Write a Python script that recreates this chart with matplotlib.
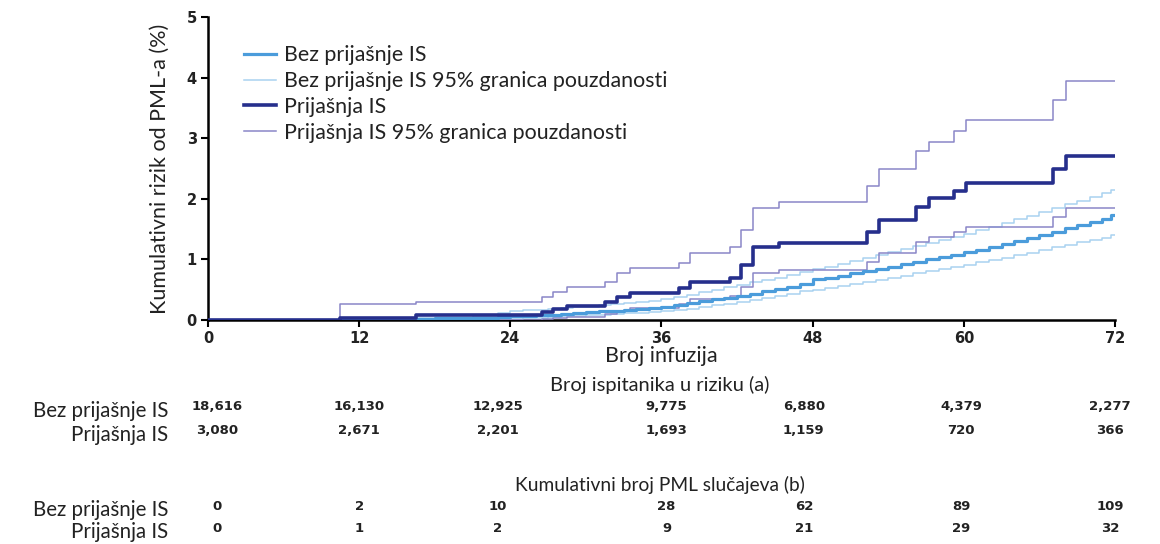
import matplotlib
matplotlib.use("Agg")
import matplotlib.pyplot as plt
import matplotlib.transforms as mtransforms

# Bez prijasnje IS - Kaplan-Meier step points (infusion, cumulative risk %)
bez_x = [0, 10.5, 14, 18, 21, 23, 24, 25, 26, 27, 28, 29, 30, 31, 32, 33, 34, 35,
         36, 37, 38, 39, 40, 41, 42, 43, 44, 45, 46, 47, 48, 49, 50, 51, 52, 53,
         54, 55, 56, 57, 58, 59, 60, 61, 62, 63, 64, 65, 66, 67, 68, 69, 70, 71, 71.7]
bez_y = [0, 0.01, 0.02, 0.03, 0.04, 0.05, 0.06, 0.07, 0.08, 0.09, 0.10, 0.12, 0.13,
         0.14, 0.15, 0.17, 0.18, 0.20, 0.22, 0.25, 0.28, 0.31, 0.34, 0.37, 0.40,
         0.43, 0.47, 0.51, 0.55, 0.60, 0.67, 0.70, 0.73, 0.77, 0.80, 0.84, 0.88,
         0.92, 0.96, 1.00, 1.04, 1.08, 1.12, 1.16, 1.21, 1.25, 1.30, 1.35, 1.40,
         1.45, 1.51, 1.56, 1.61, 1.67, 1.73]
bez_hi = [0, 0.02, 0.03, 0.04, 0.06, 0.12, 0.14, 0.16, 0.17, 0.18, 0.19, 0.21, 0.22,
          0.24, 0.26, 0.28, 0.30, 0.32, 0.34, 0.38, 0.42, 0.46, 0.50, 0.54, 0.58,
          0.62, 0.66, 0.70, 0.74, 0.79, 0.84, 0.88, 0.93, 0.98, 1.02, 1.07, 1.12,
          1.17, 1.22, 1.27, 1.32, 1.37, 1.42, 1.48, 1.54, 1.60, 1.66, 1.72, 1.78,
          1.84, 1.91, 1.97, 2.03, 2.09, 2.14]
bez_lo = [0, 0.003, 0.005, 0.008, 0.01, 0.015, 0.02, 0.03, 0.04, 0.05, 0.06, 0.07,
          0.08, 0.09, 0.10, 0.11, 0.12, 0.13, 0.14, 0.16, 0.18, 0.21, 0.24, 0.27,
          0.30, 0.33, 0.36, 0.39, 0.43, 0.47, 0.50, 0.53, 0.56, 0.60, 0.63, 0.66,
          0.70, 0.73, 0.77, 0.80, 0.84, 0.87, 0.91, 0.95, 0.99, 1.03, 1.07, 1.11,
          1.15, 1.20, 1.24, 1.28, 1.32, 1.36, 1.40]

# Prijasnja IS
pri_x = [0, 10.5, 16.5, 26.5, 27.4, 28.5, 31.5, 32.5, 33.5, 37.4, 38.3, 41.4, 42.3,
         43.3, 45.3, 52.3, 53.3, 56.2, 57.2, 59.2, 60.2, 67.1, 68.1]
pri_y = [0, 0.03, 0.08, 0.13, 0.18, 0.23, 0.30, 0.38, 0.44, 0.52, 0.63, 0.70, 0.91,
         1.20, 1.27, 1.45, 1.65, 1.87, 2.01, 2.13, 2.26, 2.49, 2.70]
pri_hi = [0, 0.26, 0.30, 0.38, 0.46, 0.54, 0.62, 0.77, 0.85, 0.94, 1.11, 1.20, 1.49,
          1.85, 1.95, 2.21, 2.49, 2.79, 2.94, 3.12, 3.30, 3.63, 3.95]
pri_lo = [0, 0, 0, 0.02, 0.03, 0.05, 0.10, 0.15, 0.20, 0.27, 0.35, 0.40, 0.55,
          0.78, 0.82, 0.96, 1.10, 1.29, 1.37, 1.45, 1.54, 1.70, 1.84]

x_ticks = [0, 12, 24, 36, 48, 60, 72]
risk_bez = ["18,616", "16,130", "12,925", "9,775", "6,880", "4,379", "2,277"]
risk_pri = ["3,080", "2,671", "2,201", "1,693", "1,159", "720", "366"]
pml_bez = ["0", "2", "10", "28", "62", "89", "109"]
pml_pri = ["0", "1", "2", "9", "21", "29", "32"]
col_x = [0.7, 12, 23, 36.4, 47.3, 59.8, 71.6]

c_bez = "#4b9cdb"
c_bez_ci = "#a9d2f0"
c_pri = "#262f8c"
c_pri_ci = "#8a86c8"
txt = "#222222"

label_font = "Lato"
num_font = "DejaVu Sans"

fig = plt.figure(figsize=(11.6, 5.44), dpi=100)
ax = fig.add_axes([0.1793, 0.4118, 0.7819, 0.557])

end = x_ticks[-1]
ax.step(bez_x + [end], bez_y + [bez_y[-1]], where="post", color=c_bez, lw=2.3,
        label="Bez prijašnje IS", zorder=4)
ax.step(bez_x + [end], bez_hi + [bez_hi[-1]], where="post", color=c_bez_ci, lw=1.1,
        label="Bez prijašnje IS 95% granica pouzdanosti", zorder=3)
ax.step(bez_x + [end], bez_lo + [bez_lo[-1]], where="post", color=c_bez_ci, lw=1.1,
        zorder=3)
ax.step(pri_x + [end], pri_y + [pri_y[-1]], where="post", color=c_pri, lw=2.6,
        label="Prijašnja IS", zorder=5)
ax.step(pri_x + [end], pri_hi + [pri_hi[-1]], where="post", color=c_pri_ci, lw=1.1,
        label="Prijašnja IS 95% granica pouzdanosti", zorder=3)
ax.step(pri_x + [end], pri_lo + [pri_lo[-1]], where="post", color=c_pri_ci, lw=1.1,
        zorder=3)

ax.set_xlim(0, 72)
ax.set_ylim(0, 5)
ax.set_xticks(x_ticks)
ax.set_yticks(range(6))
for s in ["top", "right"]:
    ax.spines[s].set_visible(False)
for s in ["left", "bottom"]:
    ax.spines[s].set_linewidth(1.8)
ax.tick_params(direction="out", length=5, width=1.5, labelsize=10.5, pad=3)
for lbl in ax.get_xticklabels() + ax.get_yticklabels():
    lbl.set_fontweight("bold")
    lbl.set_family(num_font)
    lbl.set_color(txt)

ax.set_xlabel("Broj infuzija", fontsize=15.5, family=label_font, labelpad=0, color=txt)
ax.set_ylabel("Kumulativni rizik od PML-a (%)", fontsize=15.5, family=label_font,
              labelpad=12, color=txt)

leg = ax.legend(loc="upper left", bbox_to_anchor=(0.03, 0.935), frameon=False,
                prop={"family": label_font, "size": 15.4}, handlelength=1.5,
                handletextpad=0.4, labelspacing=0.27, borderaxespad=0)
for t in leg.get_texts():
    t.set_color(txt)

# risk table below the axes
trans = mtransforms.blended_transform_factory(ax.transData, fig.transFigure)
H = 544.0


def fy(py):
    return 1 - py / H


fig.text(0.569, fy(385), "Broj ispitanika u riziku (a)", ha="center", va="center",
         fontsize=14.5, family=label_font, color=txt)
fig.text(0.569, fy(485), "Kumulativni broj PML slučajeva (b)", ha="center", va="center",
         fontsize=13.8, family=label_font, color=txt)

rows = [("Bez prijašnje IS", risk_bez, 411, 407),
        ("Prijašnja IS", risk_pri, 435, 431),
        ("Bez prijašnje IS", pml_bez, 510, 507),
        ("Prijašnja IS", pml_pri, 532, 529)]
for name, vals, ly, ny in rows:
    fig.text(168 / 1160, fy(ly), name, ha="right", va="center", fontsize=14.8,
             family=label_font, color=txt)
    for xv, v in zip(col_x, vals):
        ax.text(xv, fy(ny), v, transform=trans, ha="center", va="center",
                fontsize=9.5, fontweight="bold", family=num_font, color=txt)

fig.savefig("out.png", dpi=100)
